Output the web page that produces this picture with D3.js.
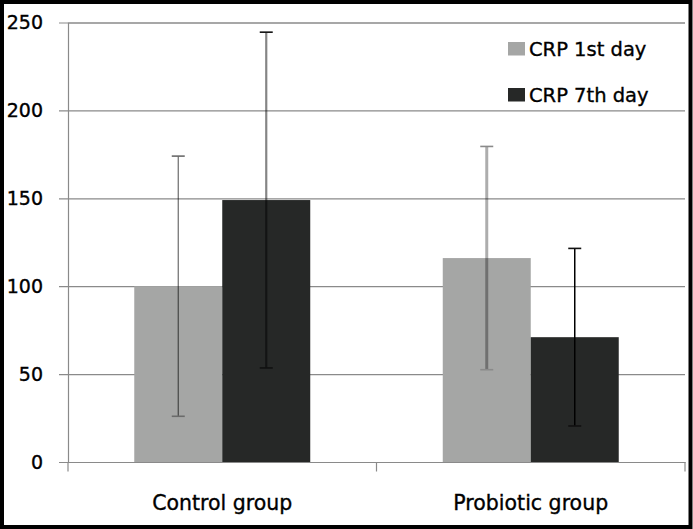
<!DOCTYPE html>
<html>
<head>
<meta charset="utf-8">
<script src="https://cdn.jsdelivr.net/npm/d3@7"></script>
<style>
  html, body { margin: 0; padding: 0; background: #fff; }
  svg { display: block; }
  text { font-family: "DejaVu Sans", sans-serif; fill: #000; stroke: #000; stroke-width: 0.35px; }
</style>
</head>
<body>
<svg id="chart" width="693" height="529"></svg>
<script>
// ---- data ----
const categories = ["Control group", "Probiotic group"];
const seriesNames = ["CRP 1st day", "CRP 7th day"];
const day1Mean = [100, 116];
const day7Mean = [149, 71];
const day1SD = [74, 63.5];
const day7SD = [95.5, 50.5];
const yTicks = [0, 50, 100, 150, 200, 250];

// ---- styles ----
const barColors = ["#a5a6a5", "#262827"];
// error-bar styles per [category][series]
const errStyle = [
  [{ op: 0.58, w: 1.2, cap: "#6b6b6b" }, { op: 0.48, w: 2.2, cap: "#111" }],
  [{ op: 0.32, w: 3, cap: "#8a8a8a" }, { op: 1.0, w: 1.5, cap: "#111" }]
];

const svg = d3.select("#chart");
const W = 693, H = 529;
const plot = { left: 68, right: 685, top: 22.5, bottom: 462 };

const y = d3.scaleLinear().domain([0, 250]).range([plot.bottom, plot.top]);
const x = d3.scaleBand().domain(categories).range([plot.left, plot.right]).padding(0);
const xs = d3.scaleBand().domain(seriesNames).range([0, x.bandwidth()])
  .paddingInner(0).paddingOuter(0.753);

svg.append("rect").attr("width", W).attr("height", H).attr("fill", "#fff");

// gridlines (through axis)
const yAxis = d3.axisLeft(y).tickValues(yTicks).tickSize(-(plot.right - plot.left)).tickFormat("");
const gY = svg.append("g").attr("transform", `translate(${plot.left},0)`).call(yAxis);
gY.select(".domain").attr("stroke", "#8a8a8a").attr("stroke-width", 1.2);
gY.selectAll(".tick line").attr("stroke", "#8a8a8a").attr("stroke-width", 1.2)
  .attr("x1", -(plot.left - 59));

// y labels
svg.append("g").selectAll("text").data(yTicks).join("text")
  .attr("x", 43).attr("y", d => y(d)).attr("dy", "0.36em")
  .attr("text-anchor", "end").attr("font-size", 19)
  .text(d => d);

// bars
const rows = [];
categories.forEach((c, i) => {
  rows.push({ cat: c, s: 0, mean: day1Mean[i], sd: day1SD[i], ci: i });
  rows.push({ cat: c, s: 1, mean: day7Mean[i], sd: day7SD[i], ci: i });
});
svg.append("g").selectAll("rect").data(rows).join("rect")
  .attr("x", d => x(d.cat) + xs(seriesNames[d.s]))
  .attr("width", xs.bandwidth())
  .attr("y", d => y(d.mean))
  .attr("height", d => y(0) - y(d.mean))
  .attr("fill", d => barColors[d.s]);

// x axis
const xAxis = d3.axisBottom(x).tickSize(0).tickFormat("");
const gX = svg.append("g").attr("transform", `translate(0,${plot.bottom})`).call(xAxis);
gX.select(".domain").attr("stroke", "#8a8a8a").attr("stroke-width", 1.2);
// category boundary tick marks
const bounds = [plot.left, ...categories.slice(1).map(c => x(c)), plot.right];
svg.append("g").selectAll("line").data(bounds).join("line")
  .attr("x1", d => d).attr("x2", d => d)
  .attr("y1", plot.bottom).attr("y2", plot.bottom + 9.5)
  .attr("stroke", "#8a8a8a").attr("stroke-width", 1.2);

// category labels
svg.append("g").selectAll("text").data(categories).join("text")
  .attr("x", d => x(d) + x.bandwidth() / 2).attr("y", 510)
  .attr("text-anchor", "middle").attr("font-size", 20.5)
  .text(d => d);

// error bars
const eb = svg.append("g");
rows.forEach(d => {
  const cx = x(d.cat) + xs(seriesNames[d.s]) + xs.bandwidth() / 2;
  const st = errStyle[d.ci][d.s];
  eb.append("line").attr("x1", cx).attr("x2", cx)
    .attr("y1", y(d.mean + d.sd)).attr("y2", y(d.mean - d.sd))
    .attr("stroke", "#000").attr("stroke-opacity", st.op).attr("stroke-width", st.w);
  [d.mean + d.sd, d.mean - d.sd].forEach(v => {
    eb.append("line").attr("x1", cx - 6.5).attr("x2", cx + 6.5)
      .attr("y1", y(v)).attr("y2", y(v))
      .attr("stroke", st.cap).attr("stroke-width", 1.6);
  });
});

// legend
const lg = svg.append("g");
seriesNames.forEach((s, i) => {
  const yy = 42 + i * 46;
  lg.append("rect").attr("x", 508).attr("y", yy).attr("width", 17).attr("height", 13.5)
    .attr("fill", barColors[i]);
  lg.append("text").attr("x", 529).attr("y", yy + 13.5)
    .attr("font-size", 19.5).text(s);
});

// frame
svg.append("rect").attr("x", 2).attr("y", 2).attr("width", W - 4.5).attr("height", H - 4)
  .attr("fill", "none").attr("stroke", "#000").attr("stroke-width", 4);
</script>
</body>
</html>
